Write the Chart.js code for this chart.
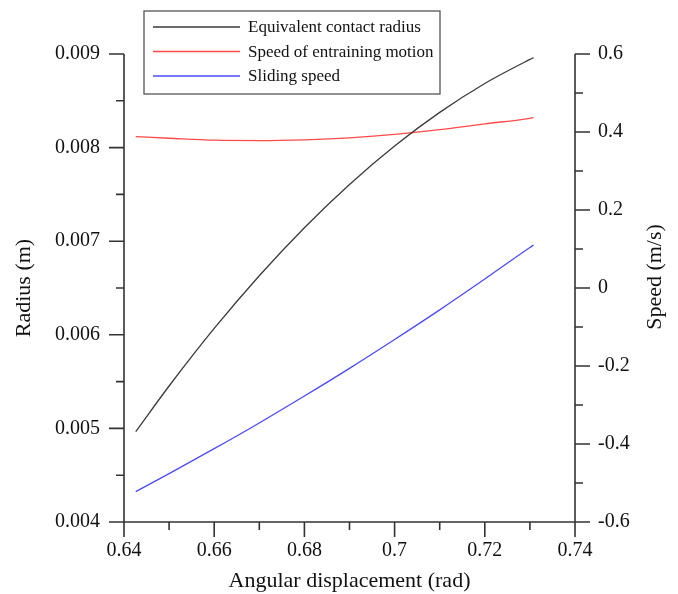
<!DOCTYPE html>
<html>
<head>
<meta charset="utf-8">
<script src="https://cdn.jsdelivr.net/npm/chart.js@4/dist/chart.umd.min.js"></script>
<style>
  html, body { margin: 0; padding: 0; background: #ffffff; }
  #wrap { width: 678px; height: 594px; position: relative; }
</style>
</head>
<body>
<div id="wrap"><canvas id="c" width="678" height="594"></canvas></div>
<script>
// ---- data ----
const angles = [0.6426, 0.65, 0.66, 0.67, 0.68, 0.69, 0.70, 0.71, 0.72, 0.73, 0.7308];
const contactRadius = [0.004965, 0.005453, 0.006068, 0.006631, 0.007144, 0.007606, 0.008017, 0.008376, 0.008685, 0.008942, 0.008961];
const entrainingSpeed = [0.388, 0.384, 0.379, 0.378, 0.380, 0.385, 0.394, 0.406, 0.421, 0.435, 0.437];
const slidingSpeed = [-0.522, -0.476, -0.412, -0.346, -0.277, -0.206, -0.132, -0.056, 0.023, 0.104, 0.110];

const seriesLabels = ['Equivalent contact radius', 'Speed of entraining motion', 'Sliding speed'];

const xMajorTicks = [0.64, 0.66, 0.68, 0.70, 0.72, 0.74];
const xMinorTicks = [0.65, 0.67, 0.69, 0.71, 0.73];
const radiusMajorTicks = [0.004, 0.005, 0.006, 0.007, 0.008, 0.009];
const radiusMinorTicks = [0.0045, 0.0055, 0.0065, 0.0075, 0.0085];
const speedMajorTicks = [-0.6, -0.4, -0.2, 0, 0.2, 0.4, 0.6];
const speedMinorTicks = [-0.5, -0.3, -0.1, 0.1, 0.3, 0.5];

const xTitle = 'Angular displacement (rad)';
const leftTitle = 'Radius (m)';
const rightTitle = 'Speed (m/s)';

// ---- styles ----
const FONT = '"Liberation Serif", "DejaVu Serif", serif';
const AXIS_COLOR = '#333333';

function toPoints(xs, ys) { return xs.map((x, i) => ({ x: x, y: ys[i] })); }

const axesPlugin = {
  id: 'axesPlugin',
  afterDraw(chart) {
    const ctx = chart.ctx;
    const a = chart.chartArea;
    const sx = chart.scales.x, sl = chart.scales.y, sr = chart.scales.y1;
    const MAJ = 15, MIN = 8;
    ctx.save();
    ctx.strokeStyle = AXIS_COLOR;
    ctx.lineWidth = 1.6;
    ctx.lineCap = 'butt';
    ctx.beginPath();
    // axis lines
    ctx.moveTo(a.left, a.top); ctx.lineTo(a.left, a.bottom);
    ctx.moveTo(a.right, a.top); ctx.lineTo(a.right, a.bottom);
    ctx.moveTo(a.left, a.bottom); ctx.lineTo(a.right, a.bottom);
    // x ticks
    xMajorTicks.forEach(v => { const p = sx.getPixelForValue(v); ctx.moveTo(p, a.bottom); ctx.lineTo(p, a.bottom + MAJ); });
    xMinorTicks.forEach(v => { const p = sx.getPixelForValue(v); ctx.moveTo(p, a.bottom); ctx.lineTo(p, a.bottom + MIN); });
    // left ticks
    radiusMajorTicks.forEach(v => { const p = sl.getPixelForValue(v); ctx.moveTo(a.left, p); ctx.lineTo(a.left - MAJ, p); });
    radiusMinorTicks.forEach(v => { const p = sl.getPixelForValue(v); ctx.moveTo(a.left, p); ctx.lineTo(a.left - MIN, p); });
    // right ticks
    speedMajorTicks.forEach(v => { const p = sr.getPixelForValue(v); ctx.moveTo(a.right, p); ctx.lineTo(a.right + MAJ, p); });
    speedMinorTicks.forEach(v => { const p = sr.getPixelForValue(v); ctx.moveTo(a.right, p); ctx.lineTo(a.right + MIN, p); });
    ctx.stroke();

    // right axis title (reads bottom-to-top)
    ctx.fillStyle = '#111111';
    ctx.font = '22px ' + FONT;
    ctx.textAlign = 'center';
    ctx.textBaseline = 'middle';
    ctx.translate(655, (a.top + a.bottom) / 2 - 11);
    ctx.rotate(-Math.PI / 2);
    ctx.fillText(rightTitle, 0, 0);
    ctx.restore();

    // legend box
    ctx.save();
    const bx = 144, by = 11, bw = 296, bh = 83;
    ctx.fillStyle = '#ffffff';
    ctx.fillRect(bx, by, bw, bh);
    ctx.strokeStyle = '#555555';
    ctx.lineWidth = 1.3;
    ctx.strokeRect(bx, by, bw, bh);
    ctx.font = '17px ' + FONT;
    ctx.textAlign = 'left';
    ctx.textBaseline = 'middle';
    chart.data.datasets.forEach((ds, i) => {
      const yy = by + 16 + i * 24.5;
      ctx.strokeStyle = ds.borderColor;
      ctx.lineWidth = 1.3;
      ctx.beginPath();
      ctx.moveTo(bx + 9, yy);
      ctx.lineTo(bx + 96, yy);
      ctx.stroke();
      ctx.fillStyle = '#111111';
      ctx.fillText(ds.label, bx + 104, yy + 1);
    });
    ctx.restore();
  }
};

new Chart(document.getElementById('c'), {
  type: 'line',
  data: {
    datasets: [
      { label: seriesLabels[0], data: toPoints(angles, contactRadius), yAxisID: 'y', borderColor: '#3a3a3a', borderWidth: 1.3, pointRadius: 0, tension: 0.4, cubicInterpolationMode: 'monotone', fill: false },
      { label: seriesLabels[1], data: toPoints(angles, entrainingSpeed), yAxisID: 'y1', borderColor: '#ff4a4a', borderWidth: 1.3, pointRadius: 0, tension: 0.4, cubicInterpolationMode: 'monotone', fill: false },
      { label: seriesLabels[2], data: toPoints(angles, slidingSpeed), yAxisID: 'y1', borderColor: '#4a4aff', borderWidth: 1.3, pointRadius: 0, tension: 0.4, cubicInterpolationMode: 'monotone', fill: false }
    ]
  },
  options: {
    responsive: false,
    animation: false,
    devicePixelRatio: 1,
    layout: { padding: { top: 54, left: 0, right: 0, bottom: 0 } },
    plugins: { legend: { display: false }, tooltip: { enabled: false } },
    scales: {
      x: {
        type: 'linear', position: 'bottom', min: 0.64, max: 0.74,
        afterBuildTicks: s => { s.ticks = xMajorTicks.map(v => ({ value: v })); },
        afterFit: s => { s.height = 72; },
        grid: { display: false, drawTicks: false },
        border: { display: false },
        ticks: { color: '#111111', font: { family: FONT, size: 20 }, padding: 17, maxRotation: 0, autoSkip: false,
                 callback: v => String(Number(v.toFixed(2))) },
        title: { display: true, text: xTitle, color: '#111111', font: { family: FONT, size: 22 }, padding: { top: 0, bottom: 0 } }
      },
      y: {
        type: 'linear', position: 'left', min: 0.004, max: 0.009,
        afterBuildTicks: s => { s.ticks = radiusMajorTicks.map(v => ({ value: v })); },
        afterFit: s => { s.width = 124; },
        grid: { display: false, drawTicks: false },
        border: { display: false },
        ticks: { color: '#111111', font: { family: FONT, size: 20 }, padding: 24, autoSkip: false,
                 callback: v => v.toFixed(3) },
        title: { display: true, text: leftTitle, color: '#111111', font: { family: FONT, size: 22 }, padding: { top: 11, bottom: 0 } }
      },
      y1: {
        type: 'linear', position: 'right', min: -0.6, max: 0.6,
        afterBuildTicks: s => { s.ticks = speedMajorTicks.map(v => ({ value: v })); },
        afterFit: s => { s.width = 103; },
        grid: { display: false, drawTicks: false },
        border: { display: false },
        ticks: { color: '#111111', font: { family: FONT, size: 20 }, padding: 23, autoSkip: false,
                 callback: v => String(Number(v.toFixed(1))) },
        title: { display: false }
      }
    }
  },
  plugins: [axesPlugin]
});
</script>
</body>
</html>
